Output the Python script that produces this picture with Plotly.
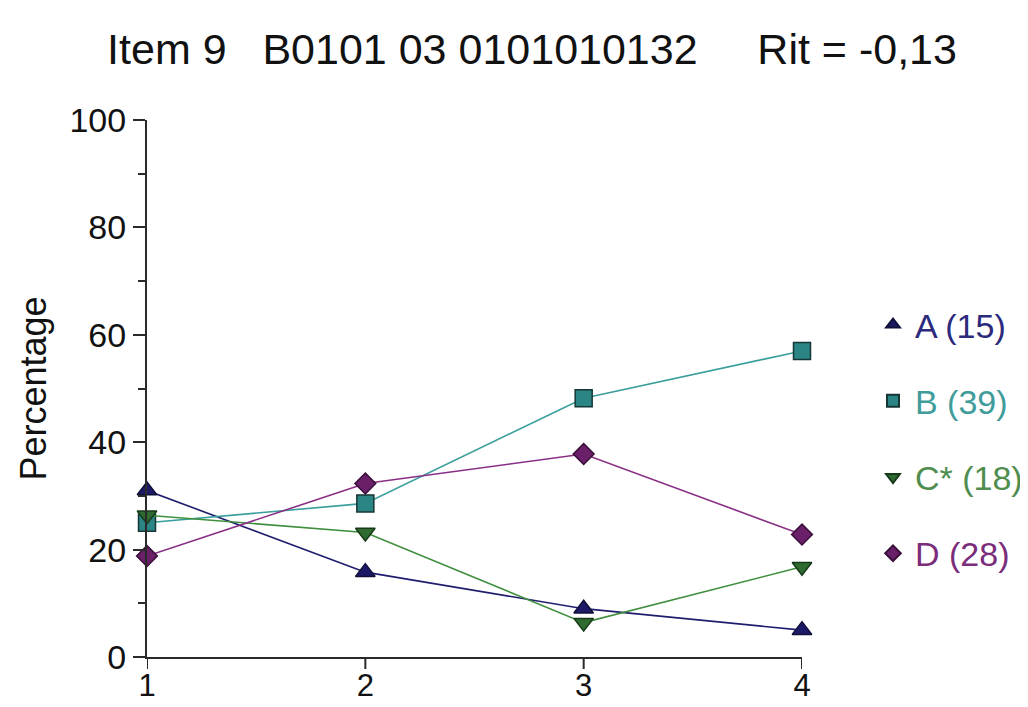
import plotly.graph_objects as go

x_groups = [1, 2, 3, 4]
series_names = ["A (15)", "B (39)", "C* (18)", "D (28)"]
a_vals = [31.0, 15.8, 9.0, 5.0]
b_vals = [25.0, 28.6, 48.2, 57.0]
c_vals = [26.4, 23.2, 6.4, 16.8]
d_vals = [18.8, 32.3, 37.8, 22.8]
y_ticks = [0, 20, 40, 60, 80, 100]
title_text = "Item 9\u00a0\u00a0\u00a0B0101 03 0101010132\u00a0\u00a0\u00a0\u00a0\u00a0Rit = -0,13"

styles = [
    dict(vals=a_vals, line="#1f1d6e", fill="#1c1a66", edge="#10103a", sym="triangle-up", size=17, text="#2b2a7c"),
    dict(vals=b_vals, line="#3a9e9c", fill="#2a8584", edge="#163636", sym="square", size=17, text="#3f9c9a"),
    dict(vals=c_vals, line="#3f8f3f", fill="#2f6b30", edge="#173a18", sym="triangle-down", size=17, text="#4e8d4e"),
    dict(vals=d_vals, line="#8a2f86", fill="#6a1f68", edge="#3a0f3a", sym="diamond", size=16, text="#7a2d7a"),
]

fig = go.Figure()
for name, s in zip(series_names, styles):
    fig.add_trace(go.Scatter(
        x=x_groups, y=s["vals"], mode="lines+markers", showlegend=False,
        line=dict(color=s["line"], width=1.6),
        marker=dict(symbol=s["sym"], size=s["size"], color=s["fill"],
                    line=dict(color=s["edge"], width=1.5)),
        cliponaxis=False,
    ))
for i, (name, s) in enumerate(zip(series_names, styles)):
    fig.add_trace(go.Scatter(
        x=[None], y=[None], mode="markers", legendgroup=f"g{i}",
        name=f"<span style='color:{s['text']}'>{name}</span>",
        marker=dict(symbol=s["sym"], size=13, color=s["fill"],
                    line=dict(color=s["edge"], width=1.2)),
    ))

axis_color = "#2a2a2a"
FW, FH = 1020, 699          # page body adds an 8px offset
L, R, T, B = 139, 794, 112, 649
PH = B - T

# x ticks drawn at the category positions so the labels can sit close to the axis
x_tick_shapes = [
    dict(type="line", xref="x", yref="paper", x0=v, x1=v, y0=0, y1=-12 / PH,
         line=dict(color=axis_color, width=2))
    for v in x_groups
]

fig.update_layout(
    width=FW, height=FH,
    paper_bgcolor="white", plot_bgcolor="white",
    margin=dict(l=L, r=FW - R, t=T, b=FH - B, autoexpand=False),
    font=dict(family="Liberation Sans, Arial, sans-serif", size=34, color="#111111"),
    title=dict(text=title_text, x=524 / FW, xref="container", xanchor="center",
               y=1 - 41 / FH, yref="container", yanchor="middle",
               font=dict(size=43, color="#111111")),
    showlegend=True,
    legend=dict(x=863 / FW, xref="container", y=1 - 288 / FH, yref="container",
                yanchor="top", xanchor="left", tracegroupgap=29,
                font=dict(size=34), bgcolor="rgba(0,0,0,0)", itemsizing="constant",
                itemwidth=34),
    xaxis=dict(range=[1, 4], tickvals=x_groups, ticktext=[str(v) for v in x_groups],
               showgrid=False, zeroline=False, showline=True, linecolor=axis_color,
               linewidth=2, ticks="",
               tickfont=dict(size=31), automargin=False),
    yaxis=dict(range=[0, 100], tickvals=y_ticks, showgrid=False, zeroline=False,
               showline=True, linecolor=axis_color, linewidth=2, ticks="outside",
               ticklen=12, tickwidth=2, tickcolor=axis_color, tickfont=dict(size=34),
               minor=dict(dtick=10, ticks="outside", ticklen=7, tickwidth=2, tickcolor=axis_color),
               title=dict(text="Percentage", font=dict(size=36), standoff=12),
               automargin=False),
    shapes=x_tick_shapes,
)

fig.write_html("out.html")
